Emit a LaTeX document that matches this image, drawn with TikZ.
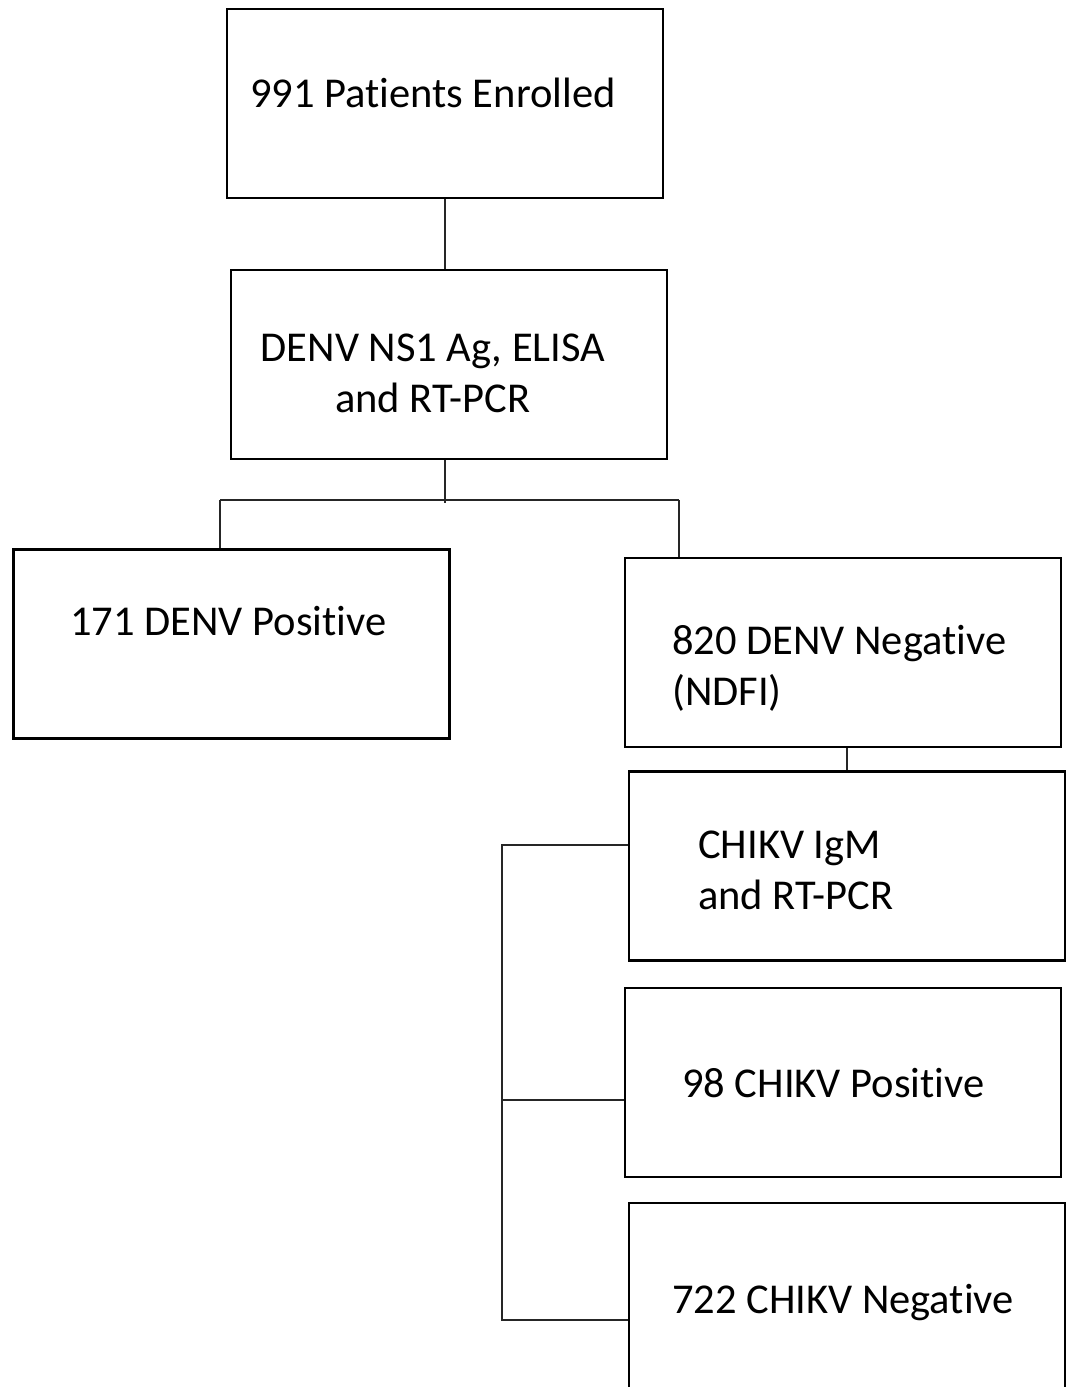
\documentclass[tikz,border=0pt]{standalone}
\usepackage{fontspec}
\setmainfont{Carlito}[Ligatures=NoCommon]
\usetikzlibrary{positioning}

\tikzset{
  box/.style={draw, line width=2.6pt, minimum width=436pt, minimum height=189pt, inner sep=0pt},
  lbl/.style={font=\fontsize{42.5}{51}\selectfont, inner sep=0pt, anchor=base west},
  link/.style={line width=1.3pt, draw=black!85}
}

\begin{document}
\begin{tikzpicture}[x=1pt,y=-1pt]
    \useasboundingbox (0,0) rectangle (1068,1387);
    \clip (0,0) rectangle (1068,1387);
    % boxes
    \node[box] (enrolled) at (445,103.5) {};
    \node[box] (tests) at (449,364.5) {};
    \node[box] (denvpos) at (231.5,644) {};
    \node[box] (denvneg) at (843,652.5) {};
    \node[box] (chikv) at (847,866) {};
    \node[box] (chikpos) at (843,1082.5) {};
    \node[box] (chikneg) at (847,1297.5) {};
    % texts (base = last line)
    \node[lbl] (t-enrolled) at (250,107) {991 Patients Enrolled};
    \node[lbl, anchor=base, align=center] (t-tests) at (433,412) {DENV NS1 Ag, ELISA\\and RT-PCR};
    \node[lbl] (t-denvpos) at (70,635) {171 DENV Positive};
    \node[lbl, align=left] (t-denvneg) at (672,705) {820 DENV Negative\\(NDFI)};
    \node[lbl, align=left] (t-chikv) at (698,909) {CHIKV IgM\\and RT-PCR};
    \node[lbl] (t-chikpos) at (682,1097) {98 CHIKV Positive};
    \node[lbl] (t-chikneg) at (672,1313) {722 CHIKV Negative};
    % connectors
    \coordinate (split) at (445,503);
    \coordinate (lft) at (220,500);
    \coordinate (rgt) at (679,500);
    \coordinate (brk) at (502,845);
    \coordinate (brkend) at (502,1320);
    \draw[link] (enrolled.south) -- (enrolled.south |- tests.north);
    \draw[link] (split |- tests.south) -- (split);
    \draw[link] (lft) -- (rgt);
    \draw[link] (lft) -- (lft |- denvpos.north);
    \draw[link] (rgt) -- (rgt |- denvneg.north);
    \draw[link] (chikv.north |- denvneg.south) -- (chikv.north);
    \draw[link] (chikv.west |- brk) -- (brk) -- (brkend) -- (brkend -| chikneg.west);
    \draw[link] (brk |- 0,1100) -- (chikpos.west |- 0,1100);
\end{tikzpicture}
\end{document}
